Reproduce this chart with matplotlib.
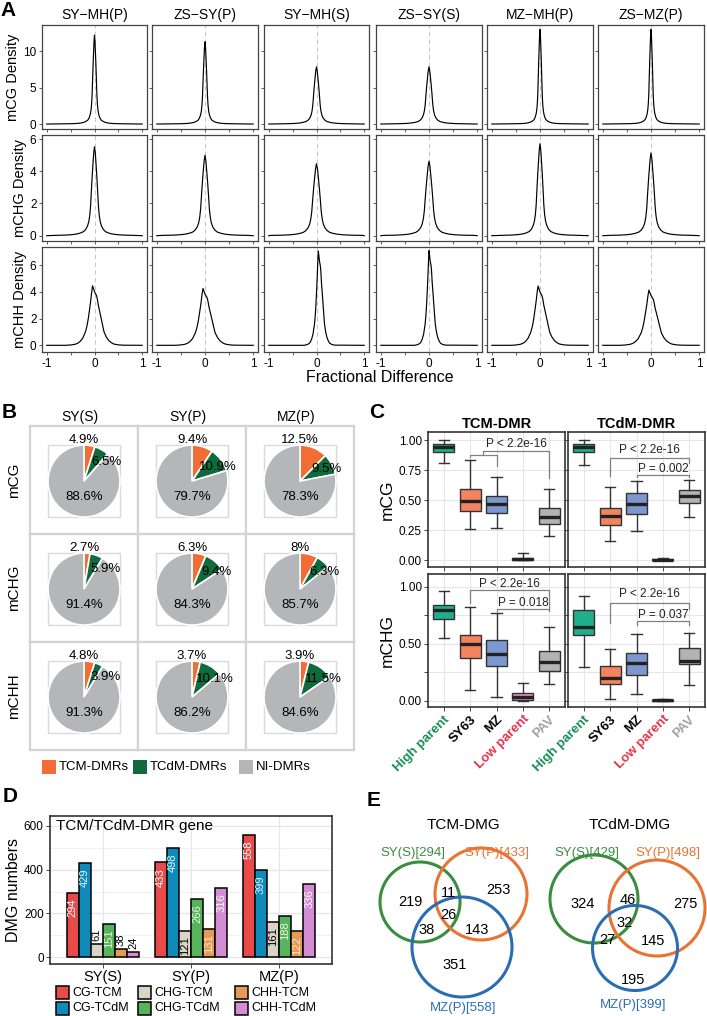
import matplotlib
matplotlib.use('Agg')
import matplotlib.pyplot as plt
from matplotlib.patches import Rectangle, Circle
import numpy as np

plt.rcParams['font.family'] = ['Liberation Sans', 'DejaVu Sans']

W, H = 707, 1016

# ---------------- data: panel A (density of fractional difference)
a_titles = ['SY\u2212MH(P)', 'ZS\u2212SY(P)', 'SY\u2212MH(S)', 'ZS\u2212SY(S)', 'MZ\u2212MH(P)', 'ZS\u2212MZ(P)']
a_ylabels = ['mCG Density', 'mCHG Density', 'mCHH Density']
a_peak = [[12.2, 11.3, 7.85, 7.85, 13.0, 13.0],
          [5.52, 4.99, 4.47, 4.62, 5.71, 5.13],
          [4.45, 4.25, 7.05, 7.08, 4.43, 4.13]]
a_width = [[0.040, 0.042, 0.062, 0.064, 0.036, 0.036],
           [0.066, 0.073, 0.080, 0.078, 0.064, 0.071],
           [0.130, 0.135, 0.070, 0.070, 0.130, 0.140]]
a_shift = [[0, 0, 0, 0, 0, 0],
           [0, 0, 0, 0, 0, 0],
           [0, 0, 0.06, 0.022, 0, 0]]
# curve shapes (x in width units, y relative to the peak)
shape_sym_x = [-12, -9, -7, -5.5, -4.5, -3.5, -2.8, -2.2, -1.8, -1.5, -1.25, -1, -0.75, -0.5, -0.25, 0,
               0.25, 0.5, 0.75, 1, 1.25, 1.5, 1.8, 2.2, 2.8, 3.5, 4.5, 5.5, 7, 9, 12]
shape_sym_y = [0.004, 0.007, 0.012, 0.02, 0.03, 0.045, 0.07, 0.11, 0.16, 0.23, 0.33, 0.5, 0.66, 0.8, 0.93, 1,
               0.93, 0.8, 0.66, 0.5, 0.33, 0.23, 0.16, 0.11, 0.07, 0.045, 0.03, 0.02, 0.012, 0.007, 0.004]
shape_chh_x = [-4.6, -3.8, -3.1, -2.7, -2.3, -1.9, -1.46, -1.2, -1, -0.8, -0.62, -0.45, -0.31, -0.15, 0,
               0.15, 0.31, 0.45, 0.62, 0.85, 1.08, 1.3, 1.54, 1.9, 2.3, 2.7, 3.1, 3.8, 4.6]
shape_chh_y = [0, 0.006, 0.018, 0.035, 0.067, 0.12, 0.225, 0.33, 0.45, 0.6, 0.74, 0.9, 1.0, 0.95, 0.9,
               0.87, 0.84, 0.78, 0.67, 0.56, 0.45, 0.34, 0.225, 0.14, 0.08, 0.045, 0.022, 0.008, 0.002]

# ---------------- data: panel B (pies, percent)
b_cols = ['SY(S)', 'SY(P)', 'MZ(P)']
b_rows = ['mCG', 'mCHG', 'mCHH']
b_tcm = [[4.9, 9.4, 12.5], [2.7, 6.3, 8], [4.8, 3.7, 3.9]]
b_tcdm = [[6.5, 10.9, 9.5], [5.9, 9.4, 6.3], [3.9, 10.1, 11.5]]
b_ni = [[88.6, 79.7, 78.3], [91.4, 84.3, 85.7], [91.3, 86.2, 84.6]]
b_names = ['TCM-DMRs', 'TCdM-DMRs', 'NI-DMRs']
b_colors = ['#F26D35', '#0F6B3C', '#B4B6B9']

# ---------------- data: panel C (boxplots: whislo, q1, med, q3, whishi)
c_cats = ['High parent', 'SY63', 'MZ', 'Low parent', 'PAV']
c_cat_colors = ['#198C55', 'black', 'black', '#E5334B', '#A0A0A0']
c_fill = ['#20AE8B', '#F4845F', '#7D98CF', '#EC8EC3', '#B3B3B3']
c_titles = ['TCM-DMR', 'TCdM-DMR']
c_ylabels = ['mCG', 'mCHG']
cg_tcm_box = [(0.81, 0.90, 0.94, 0.964, 1.0), (0.26, 0.41, 0.495, 0.59, 0.83),
              (0.27, 0.39, 0.465, 0.53, 0.69), (0.0, 0.0, 0.005, 0.02, 0.055),
              (0.20, 0.30, 0.36, 0.435, 0.59)]
cg_tcdm_box = [(0.79, 0.90, 0.945, 0.97, 1.0), (0.155, 0.29, 0.367, 0.435, 0.605),
               (0.24, 0.38, 0.464, 0.555, 0.66), (0.0, 0.0, 0.002, 0.008, 0.018),
               (0.36, 0.478, 0.533, 0.58, 0.67)]
chg_tcm_box = [(0.55, 0.716, 0.80, 0.845, 0.962), (0.10, 0.38, 0.497, 0.576, 0.825),
               (0.032, 0.307, 0.415, 0.538, 0.775), (0.0, 0.006, 0.035, 0.07, 0.158),
               (0.152, 0.26, 0.342, 0.44, 0.65)]
chg_tcdm_box = [(0.298, 0.582, 0.65, 0.795, 0.918), (0.02, 0.146, 0.205, 0.31, 0.453),
                (0.058, 0.231, 0.333, 0.424, 0.585), (0.0, 0.002, 0.005, 0.01, 0.02),
                (0.143, 0.32, 0.35, 0.468, 0.596)]
# brackets: x1, x2, y, leg1 end, leg2 end, label, label y
cg_tcm_brk = [(1, 2, 0.875, 0.86, 0.78, None, None), (1.5, 4, 0.91, 0.875, 0.68, 'P < 2.2e-16', 0.965)]
cg_tcdm_brk = [(1, 4, 0.85, 0.70, 0.81, 'P < 2.2e-16', 0.915), (2, 4, 0.708, 0.69, 0.69, 'P = 0.002', 0.755)]
chg_tcm_brk = [(1, 4, 0.977, 0.862, 0.81, 'P < 2.2e-16', 1.023), (2, 4, 0.81, 0.79, 0.79, 'P = 0.018', 0.862)]
chg_tcdm_brk = [(1, 4, 0.86, 0.684, 0.81, 'P < 2.2e-16', 0.936), (2, 4, 0.70, 0.664, 0.664, 'P = 0.037', 0.757)]

# ---------------- data: panel D (DMG numbers)
d_groups = ['SY(S)', 'SY(P)', 'MZ(P)']
d_series = ['CG-TCM', 'CG-TCdM', 'CHG-TCM', 'CHG-TCdM', 'CHH-TCM', 'CHH-TCdM']
d_values = [[294, 433, 558], [429, 498, 399], [61, 121, 161],
            [151, 266, 188], [38, 131, 122], [24, 316, 336]]
d_colors = ['#E94B4B', '#0E8BBB', '#D8D4C6', '#57B45A', '#E59A55', '#D48CD2']
d_txt = ['white', '#DDF6FF', 'black', '#E6F7E0', '#FBE6D0', 'white']

# ---------------- data: panel E (Venn counts)
venn_titles = ['TCM-DMG', 'TCdM-DMG']
venn_sets = [['SY(S)[294]', 'SY(P)[433]', 'MZ(P)[558]'],
             ['SY(S)[429]', 'SY(P)[498]', 'MZ(P)[399]']]
# regions: S only, S&P, P only, all, S&M, P&M, M only
venn_counts = [[219, 11, 253, 26, 38, 143, 351],
               [324, 46, 275, 32, 27, 145, 195]]
venn_colors = ['#3A8D3F', '#E87332', '#2B6DB3']

fig = plt.figure(figsize=(W / 100, H / 100), dpi=100)


def rect(x0, y0, x1, y1):
    return [x0 / W, 1 - y1 / H, (x1 - x0) / W, (y1 - y0) / H]


def ftext(x, y, s, **kw):
    fig.text(x / W, 1 - y / H, s, **kw)


# ================= panel A
a_cols = [(42, 147), (152, 258), (264, 369), (376, 482), (487, 593), (598, 704)]
a_rows = [(25, 129), (135, 241), (247, 352)]
a_ylims = [(-0.68, 13.6), (-0.33, 6.25), (-0.5, 7.35)]
a_yticks = [[0, 5, 10], [0, 2, 4, 6], [0, 2, 4, 6]]
for r in range(3):
    for c in range(6):
        ax = fig.add_axes(rect(a_cols[c][0], a_rows[r][0], a_cols[c][1], a_rows[r][1]))
        if r < 2:
            sx, sy = shape_sym_x, shape_sym_y
        else:
            sx, sy = shape_chh_x, shape_chh_y
        xs = np.r_[-1, np.array(sx) * a_width[r][c] + a_shift[r][c], 1]
        ys = np.r_[0, np.array(sy) * a_peak[r][c], 0]
        ax.axvline(0, color='#C8C8C8', lw=0.8, ls=(0, (4, 3)), zorder=1)
        ax.plot(xs, ys, color='black', lw=0.85, zorder=2)
        ax.set_xlim(-1.1, 1.1)
        ax.set_ylim(*a_ylims[r])
        ax.set_xticks([-1, -0.5, 0, 0.5, 1])
        ax.set_xticklabels(['-1', '', '0', '', '1'])
        ax.set_yticks(a_yticks[r])
        ax.tick_params(length=2.5, width=0.6, color='#444', labelsize=8.5, pad=1.5,
                       labelbottom=(r == 2), labelleft=(c == 0))
        for sp in ax.spines.values():
            sp.set_color('#444')
            sp.set_linewidth(0.9)
        if r == 0:
            ax.set_title(a_titles[c], fontsize=10, pad=4)
        if c == 0:
            ax.set_ylabel(a_ylabels[r], fontsize=10.5, labelpad=2)
ftext(380, 378, 'Fractional Difference', fontsize=11.5, ha='center', va='center')

# ================= panel B
b_cx = [(30, 138), (138, 246), (246, 354)]
b_cy = [(426, 534), (534, 642), (642, 750)]
for r in range(3):
    for c in range(3):
        ax = fig.add_axes(rect(b_cx[c][0], b_cy[r][0], b_cx[c][1], b_cy[r][1]))
        vals = [b_tcm[r][c], b_tcdm[r][c], b_ni[r][c]]
        ax.add_patch(Rectangle((-1, -1), 2, 2, fill=False, ec='#D9D9D9', lw=1.0, zorder=0))
        ax.pie(vals, colors=b_colors, startangle=90, counterclock=False, radius=1,
               wedgeprops=dict(edgecolor='white', linewidth=1.2))
        ax.set_frame_on(True)
        ax.set_xlim(-1.5, 1.5)
        ax.set_ylim(-1.47, 1.53)
        for sp in ax.spines.values():
            sp.set_color('#D4D4D4')
            sp.set_linewidth(1.6)
        ax.text(0, 1.14, f'{vals[0]:g}%', ha='center', va='center', fontsize=9.5)
        mid = (vals[0] + vals[1] / 2) * 3.6
        ang = np.deg2rad(mid * 0.45 + 37)
        ax.text(0.82 * np.sin(ang), 0.82 * np.cos(ang), f'{vals[1]:g}%', ha='center', va='center', fontsize=9.5)
        ax.text(0, -0.45, f'{vals[2]:g}%', ha='center', va='center', fontsize=9.5)
for c in range(3):
    ftext((b_cx[c][0] + b_cx[c][1]) / 2 - 4, 417, b_cols[c], fontsize=10, ha='center', va='center')
for r in range(3):
    ftext(14, (b_cy[r][0] + b_cy[r][1]) / 2, b_rows[r], fontsize=11, ha='center', va='center', rotation=90)

# ================= panel C
c_x = [(428, 565), (568, 705)]
c_y = [(432, 567), (574, 707)]
c_boxes = [[cg_tcm_box, cg_tcdm_box], [chg_tcm_box, chg_tcdm_box]]
c_brks = [[cg_tcm_brk, cg_tcdm_brk], [chg_tcm_brk, chg_tcdm_brk]]
c_ylims = [(-0.058, 1.067), (-0.053, 1.114)]
for r in range(2):
    for c in range(2):
        ax = fig.add_axes(rect(c_x[c][0], c_y[r][0], c_x[c][1], c_y[r][1]))
        stats = [dict(whislo=b[0], q1=b[1], med=b[2], q3=b[3], whishi=b[4], fliers=[])
                 for b in c_boxes[r][c]]
        res = ax.bxp(stats, positions=range(5), widths=0.8, capwidths=0.4, patch_artist=True,
                     showfliers=False, manage_ticks=False,
                     boxprops=dict(edgecolor='#333333', linewidth=1.0),
                     medianprops=dict(color='#222222', linewidth=2.4),
                     whiskerprops=dict(color='#333333', linewidth=1.0),
                     capprops=dict(color='#333333', linewidth=1.0))
        for patch, col in zip(res['boxes'], c_fill):
            patch.set_facecolor(col)
        for x1, x2, y, l1, l2, lab, ty in c_brks[r][c]:
            ax.plot([x1, x1, x2, x2], [l1, y, y, l2], color='#808080', lw=0.9)
            if lab:
                ax.text((x1 + x2) / 2, ty, lab, ha='center', va='center', fontsize=8.5, color='#222')
        ax.set_xlim(-0.6, 4.6)
        ax.set_ylim(*c_ylims[r])
        ax.set_xticks(range(5))
        ax.set_yticks([0, 0.25, 0.5, 0.75, 1.0])
        if r == 0:
            ax.set_yticklabels(['0.00', '0.25', '0.50', '0.75', '1.00'])
        else:
            ax.set_yticklabels(['0.00', '', '0.50', '', '1.00'])
        ax.grid(True, color='#E6E6E6', lw=0.8)
        ax.set_axisbelow(True)
        ax.tick_params(length=3, width=0.7, color='#444', labelsize=8.5, pad=1.5,
                       labelleft=(c == 0), labelbottom=(r == 1))
        if r == 1:
            ax.set_xticklabels(c_cats, rotation=45, ha='right', rotation_mode='anchor',
                               fontweight='bold', fontsize=9.5)
            for lbl, col in zip(ax.get_xticklabels(), c_cat_colors):
                lbl.set_color(col)
        for sp in ax.spines.values():
            sp.set_color('#333333')
            sp.set_linewidth(1.2)
        if r == 0:
            ax.set_title(c_titles[c], fontsize=10.5, fontweight='bold', pad=3)
        if c == 0:
            ax.set_ylabel(c_ylabels[r], fontsize=12.5, labelpad=3)

# ================= panel D
axd = fig.add_axes(rect(50, 816, 332, 964))
bw = 0.82 / 6
xg = np.arange(3)
for i in range(6):
    xb = xg + (i - 2.5) * bw
    axd.bar(xb, d_values[i], width=bw, color=d_colors[i], edgecolor='black', linewidth=1.1, zorder=2)
    for xv, v in zip(xb, d_values[i]):
        if v >= 100:
            axd.annotate(str(v), (xv, v), xytext=(0, -4), textcoords='offset points', rotation=90,
                         ha='center', va='top', fontsize=8, color=d_txt[i], zorder=3)
        else:
            axd.annotate(str(v), (xv, v), xytext=(0, 2), textcoords='offset points', rotation=90,
                         ha='center', va='bottom', fontsize=8, color='black', zorder=3)
axd.set_xlim(-0.6, 2.6)
axd.set_ylim(-30, 644)
axd.set_xticks(xg)
axd.set_xticklabels(d_groups, fontsize=10)
axd.set_yticks([0, 200, 400, 600])
axd.set_yticks([100, 300, 500], minor=True)
axd.grid(True, which='major', color='#E6E6E6', lw=0.9)
axd.grid(True, which='minor', axis='y', color='#EFEFEF', lw=0.6)
axd.set_axisbelow(True)
axd.tick_params(which='major', length=3, width=0.7, color='#444', labelsize=8.5, pad=1.5)
axd.tick_params(axis='x', labelsize=10.5)
axd.tick_params(which='minor', length=0)
for sp in axd.spines.values():
    sp.set_color('#333333')
    sp.set_linewidth(1.2)
axd.set_ylabel('DMG numbers', fontsize=11.5, labelpad=2)
axd.text(0.02, 0.93, 'TCM/TCdM-DMR gene', transform=axd.transAxes, fontsize=11, va='center', ha='left')

# ================= overlay: letters, legends, Venn diagrams
ov = fig.add_axes([0, 0, 1, 1])
ov.set_xlim(0, W)
ov.set_ylim(H, 0)
ov.axis('off')

for lx, ly, s in [(8, 10, 'A'), (9, 412, 'B'), (377, 413, 'C'), (10, 797, 'D'), (374, 800, 'E')]:
    ov.text(lx, ly, s, fontsize=15, fontweight='bold', ha='center', va='center')

# legend B
for bx, tx, name, col in zip([42, 133, 239], [59, 150, 256], b_names, b_colors):
    ov.add_patch(Rectangle((bx, 760), 14, 14, color=col, lw=0))
    ov.text(tx, 767, name, fontsize=9.5, va='center', ha='left')

# legend D
for i, name in enumerate(d_series):
    col, row = i // 2, i % 2
    bx = [56, 138, 235][col]
    by = [992.5, 1008][row]
    ov.add_patch(Rectangle((bx, by - 6.5), 13, 13, facecolor=d_colors[i], edgecolor='black', lw=1.1))
    ov.text(bx + 16, by, name, fontsize=9, va='center', ha='left')

# Venn layout (pixels): circle centres/radii, count positions, set label positions
venn_circ = [[(420, 902, 40), (481, 894, 46), (462, 947, 50)],
             [(594, 899, 44), (657, 908, 48), (635, 948, 42.5)]]
venn_num_pos = [[(410, 902), (448, 893), (498, 890), (448, 915), (427, 930), (477, 930), (455, 965)],
                [(583, 904), (628, 900), (685, 904), (625, 923), (607, 940), (653, 941), (633, 980)]]
venn_lab_pos = [[(413, 853), (497, 853), (463, 1008)],
                [(587, 853), (668, 853), (633, 1005)]]
venn_title_pos = [(463, 825), (630, 825)]
for v in range(2):
    ov.text(*venn_title_pos[v], venn_titles[v], fontsize=11, ha='center', va='center')
    for (cx, cy, rr), col in zip(venn_circ[v], venn_colors):
        ov.add_patch(Circle((cx, cy), rr, fill=False, ec=col, lw=2.2))
    for (px, py), n in zip(venn_num_pos[v], venn_counts[v]):
        ov.text(px, py, str(n), fontsize=10.5, ha='center', va='center')
    for (px, py), lab, col in zip(venn_lab_pos[v], venn_sets[v], venn_colors):
        ov.text(px, py, lab, fontsize=9.5, ha='center', va='center', color=col)

fig.savefig('out.png', dpi=100)
